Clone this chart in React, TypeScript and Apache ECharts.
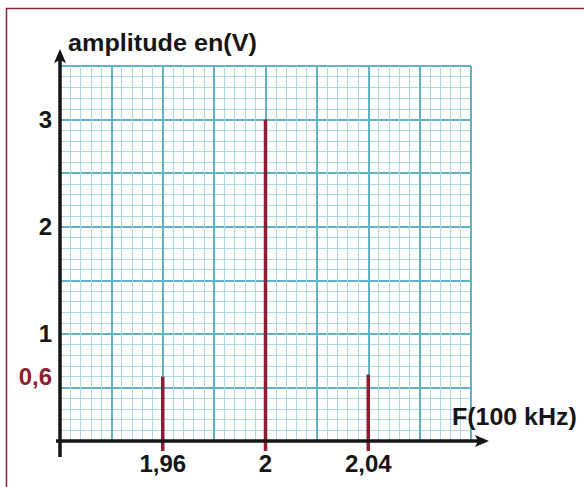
import React, { useEffect, useRef } from 'react';
import * as echarts from 'echarts';

// ---- data ----
const frequencies = [1.96, 2, 2.04];
const amplitudes = [0.6, 3, 0.62];
const xTickValues = [1.96, 2, 2.04];
const xTickLabels = ['1,96', '2', '2,04'];
const yTickValues = [1, 2, 3];
const yTickLabels = ['1', '2', '3'];
const yMarkValues = [0.6];
const yMarkLabels = ['0,6'];
const xMin = 1.92;
const xMax = 2.08;
const yMin = 0;
const yMax = 3.5;

// ---- layout / style ----
const GL = 60;
const GT = 66;
const GW = 411;
const GH = 375;
const RED = '#8c1d32';
const INK = '#161616';
const MINOR = '#acd8e4';
const MAJOR = '#60b2c4';
const FONT = '"Liberation Sans", Arial, sans-serif';
const FS = 24;

const near = (a: number, b: number) => Math.abs(a - b) < 1e-6;

export default function App() {
  const ref = useRef<HTMLDivElement>(null);

  useEffect(() => {
    if (!ref.current) return;
    const chart = echarts.init(ref.current, null, { renderer: 'svg' });
    const bottom = GT + GH;
    const right = GL + GW;
    const gridCfg = { left: GL, top: GT, width: GW, height: GH, containLabel: false, outerBoundsMode: 'none' };

    const option: any = {
      animation: false,
      backgroundColor: '#ffffff',
      textStyle: { fontFamily: FONT },
      grid: [gridCfg, { ...gridCfg }],
      xAxis: [
        {
          gridIndex: 0,
          type: 'value',
          min: xMin,
          max: xMax,
          interval: 0.004,
          axisLine: { show: false },
          axisTick: { show: false },
          splitLine: { show: true, lineStyle: { color: MINOR, width: 1 } },
          axisLabel: {
            show: true,
            interval: 0,
            margin: 10,
            color: INK,
            fontSize: FS,
            fontWeight: 'bold',
            fontFamily: FONT,
            formatter: (v: number) => {
              const i = xTickValues.findIndex((t) => near(t, v));
              return i >= 0 ? xTickLabels[i] : '';
            },
          },
        },
        {
          gridIndex: 1,
          type: 'value',
          min: xMin,
          max: xMax,
          interval: 0.02,
          axisLine: { show: false },
          axisTick: { show: false },
          axisLabel: { show: false },
          splitLine: { show: true, lineStyle: { color: MAJOR, width: 2 } },
        },
      ],
      yAxis: [
        {
          gridIndex: 0,
          type: 'value',
          min: yMin,
          max: yMax,
          interval: 0.1,
          axisLine: { show: false },
          axisTick: { show: false },
          splitLine: { show: true, lineStyle: { color: MINOR, width: 1 } },
          axisLabel: {
            show: true,
            interval: 0,
            margin: 8,
            color: INK,
            fontSize: FS,
            fontWeight: 'bold',
            fontFamily: FONT,
            formatter: (v: number) => {
              const i = yTickValues.findIndex((t) => near(t, v));
              if (i >= 0) return yTickLabels[i];
              const j = yMarkValues.findIndex((t) => near(t, v));
              if (j >= 0) return '{r|' + yMarkLabels[j] + '}';
              return '';
            },
            rich: {
              r: { color: RED, fontSize: FS, fontWeight: 'bold', fontFamily: FONT },
            },
          },
        },
        {
          gridIndex: 1,
          type: 'value',
          min: yMin,
          max: yMax,
          interval: 0.5,
          axisLine: { show: false },
          axisTick: { show: false },
          axisLabel: { show: false },
          splitLine: { show: true, lineStyle: { color: MAJOR, width: 2 } },
        },
      ],
      series: [
        {
          type: 'custom',
          xAxisIndex: 1,
          yAxisIndex: 1,
          clip: false,
          z: 5,
          data: frequencies.map((f, i) => [f, amplitudes[i]]),
          renderItem: (_p: any, api: any) => {
            const top = api.coord([api.value(0), api.value(1)]);
            const base = api.coord([api.value(0), 0]);
            return {
              type: 'line',
              shape: { x1: base[0], y1: base[1] + 10, x2: top[0], y2: top[1] },
              style: { stroke: RED, lineWidth: 3.5 },
            };
          },
        },
      ],
      graphic: [
        {
          type: 'rect',
          z: 1,
          shape: { x: 6.5, y: 8.5, width: 620, height: 520 },
          style: { fill: 'none', stroke: '#8a2335', lineWidth: 1.5 },
        },
        {
          type: 'line',
          z: 20,
          shape: { x1: GL, y1: bottom + 16, x2: GL, y2: 58 },
          style: { stroke: INK, lineWidth: 3.5 },
        },
        {
          type: 'polygon',
          z: 20,
          shape: { points: [[GL, 49], [GL - 6, 63], [GL, 60], [GL + 6, 63]] },
          style: { fill: INK },
        },
        {
          type: 'line',
          z: 20,
          shape: { x1: GL - 4, y1: bottom, x2: right + 10, y2: bottom },
          style: { stroke: INK, lineWidth: 3.5 },
        },
        {
          type: 'polygon',
          z: 20,
          shape: { points: [[right + 18, bottom], [right + 4, bottom - 6], [right + 7, bottom], [right + 4, bottom + 6]] },
          style: { fill: INK },
        },
        {
          type: 'text',
          z: 20,
          x: 68,
          y: 43,
          scaleX: 1.05,
          style: {
            text: 'amplitude en(V)',
            fill: INK,
            font: 'bold ' + FS + 'px ' + FONT,
            verticalAlign: 'middle',
            align: 'left',
          },
        },
        {
          type: 'text',
          z: 20,
          x: 452,
          y: 417,
          scaleX: 1.04,
          style: {
            text: 'F(100 kHz)',
            fill: INK,
            font: 'bold ' + FS + 'px ' + FONT,
            verticalAlign: 'middle',
            align: 'left',
          },
        },
      ],
    };

    chart.setOption(option);
    return () => chart.dispose();
  }, []);

  return (
    <div
      ref={ref}
      style={{ position: 'absolute', left: 0, top: 0, width: 584, height: 487 }}
    />
  );
}
